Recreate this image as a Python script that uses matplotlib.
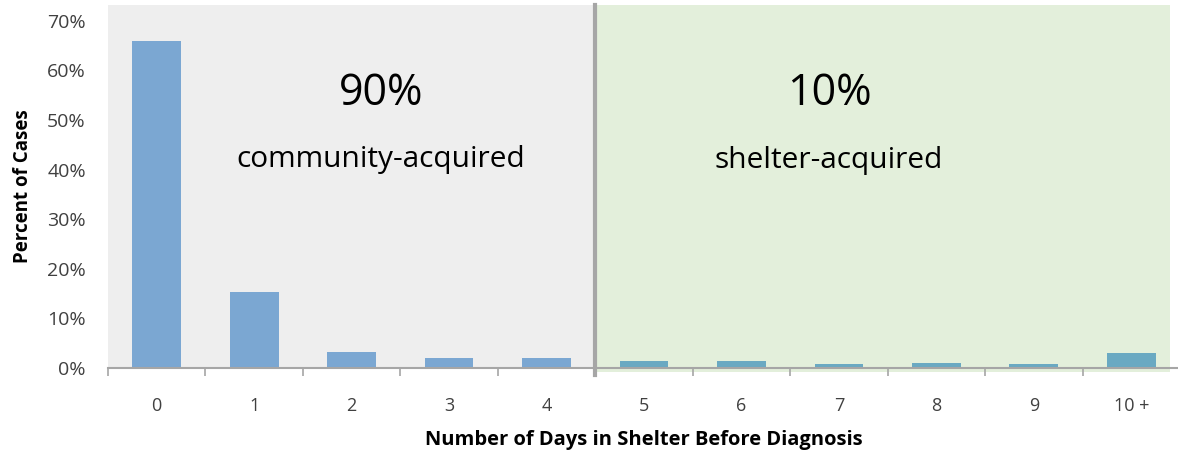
import matplotlib
matplotlib.use('Agg')
import matplotlib.pyplot as plt
import numpy as np
from matplotlib.ticker import PercentFormatter

## data
days = ['0', '1', '2', '3', '4', '5', '6', '7', '8', '9', '10 +']
pct_cases = [0.660, 0.153, 0.033, 0.020, 0.020, 0.014, 0.014, 0.008, 0.011, 0.008, 0.030]
split_after = 4          # last "community" category
community_share = '90%'
shelter_share = '10%'

plt.rcParams['font.family'] = ['Open Sans', 'DejaVu Sans']

fig = plt.figure(figsize=(11.78, 4.58), dpi=100)
ax = fig.add_axes([108 / 1178, 1 - 368 / 458, 1072 / 1178, 363 / 458])

x = np.arange(len(days))
ax.set_xlim(-0.5, len(days) - 0.5)
ax.set_ylim(0, 0.732)

# shaded backgrounds (grey = community, green = shelter)
ax.axvspan(-0.54, split_after + 0.5, ymin=0, ymax=1, color='#eeeeee', zorder=0, lw=0)
ax.axvspan(split_after + 0.5, 10.4, ymin=-0.01, ymax=1, color='#e3efdb', zorder=0, lw=0, clip_on=False)
ax.axvline(split_after + 0.5, ymin=-0.02, ymax=1, color='#a6a6a6', lw=3, zorder=3, clip_on=False)

colors = ['#7ba7d2' if i <= split_after else '#6aa9c2' for i in x]
ax.bar(x, pct_cases, width=0.5, color=colors, zorder=2)

# axis styling
for s in ['top', 'right', 'left']:
    ax.spines[s].set_visible(False)
ax.spines['bottom'].set_color('#a6a6a6')
ax.spines['bottom'].set_linewidth(1.5)
ax.spines['bottom'].set_zorder(4)

ax.set_yticks(np.arange(0, 0.71, 0.1))
ax.yaxis.set_major_formatter(PercentFormatter(1.0, decimals=0))
ax.tick_params(axis='y', length=0, pad=16, labelsize=14, labelcolor='#404040')

ax.set_xticks(np.arange(-0.5, len(days), 1.0))
ax.set_xticklabels([])
ax.set_xticks(x, minor=True)
ax.set_xticklabels(days, minor=True)
ax.tick_params(axis='x', which='major', length=6, color='#a6a6a6', width=1.2, direction='out')
ax.tick_params(axis='x', which='minor', length=0, pad=21, labelsize=13, labelcolor='#404040')

ax.set_ylabel('Percent of Cases', fontsize=13.5, fontweight='bold', color='black', labelpad=10)
ax.set_xlabel('Number of Days in Shelter Before Diagnosis', fontsize=14.5, fontweight='bold',
              color='black', labelpad=11)

# annotations in each region
ax.text(2.3, 0.553, community_share, ha='center', va='center', fontsize=31, color='black')
ax.text(2.3, 0.42, 'community-acquired', ha='center', va='center', fontsize=21.5, color='black')
ax.text(6.9, 0.553, shelter_share, ha='center', va='center', fontsize=31, color='black')
ax.text(6.9, 0.418, 'shelter-acquired', ha='center', va='center', fontsize=21.5, color='black')

fig.savefig('out.png', dpi=100)
